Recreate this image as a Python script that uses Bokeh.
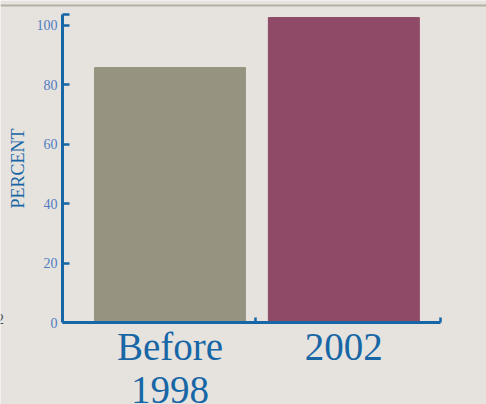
from bokeh.plotting import figure
from bokeh.models import Range1d, FixedTicker, Label, Span, ColumnDataSource, LinearAxis
from bokeh.embed import file_html
from bokeh.resources import INLINE

categories = ["Before\n1998", "2002"]
values = [85.7, 102.5]
bar_colors = ["#969481", "#8E4A66"]
y_ticks = [0, 20, 40, 60, 80, 100]

BG = "#E6E3DF"
AXIS = "#1766A5"
LABEL = "#4F7CC0"
FONT = "Liberation Serif"

X0, X1 = 0.382, 2.555      # extent of the x axis
Y1 = 103.5                 # top of the y axis

xs = [i + 1 for i in range(len(categories))]
src = ColumnDataSource(dict(x=xs, top=values, color=bar_colors))

p = figure(width=486, height=404, output_backend="svg", toolbar_location=None,
           x_range=Range1d(0.0255, 2.8203), y_range=Range1d(-27.56, 108.24),
           x_axis_location=None, y_axis_location=None,
           min_border=0, min_border_left=0, min_border_right=0,
           min_border_top=0, min_border_bottom=0)
p.background_fill_color = BG
p.border_fill_color = BG
p.outline_line_color = None
p.grid.visible = False

p.vbar(x="x", top="top", width=0.868, bottom=0, color="color", source=src)

# y axis
ya = LinearAxis(fixed_location=X0, bounds=(0, Y1))
ya.ticker = FixedTicker(ticks=y_ticks + [Y1], minor_ticks=[])
ya.major_label_overrides = {Y1: ""}
ya.axis_line_color = AXIS
ya.axis_line_width = 3
ya.major_tick_line_color = AXIS
ya.major_tick_line_width = 2.5
ya.major_tick_in = 7
ya.major_tick_out = 0
ya.minor_tick_line_color = None
ya.major_label_text_font = FONT
ya.major_label_text_font_size = "14px"
ya.major_label_text_color = LABEL
ya.major_label_standoff = 5
ya.axis_label = "PERCENT"
ya.axis_label_text_font = FONT
ya.axis_label_text_font_size = "18px"
ya.axis_label_text_font_style = "normal"
ya.axis_label_text_color = AXIS
ya.axis_label_standoff = 6
p.add_layout(ya, "left")

# x axis
xa = LinearAxis(fixed_location=0, bounds=(X0, X1))
xa.ticker = FixedTicker(ticks=xs, minor_ticks=[1.4917, X1])
xa.major_label_overrides = {float(x): c for x, c in zip(xs, categories)}
xa.axis_line_color = AXIS
xa.axis_line_width = 3
xa.major_tick_line_color = None
xa.major_tick_in = 0
xa.major_tick_out = 0
xa.minor_tick_line_color = AXIS
xa.minor_tick_line_width = 2.5
xa.minor_tick_in = 5
xa.minor_tick_out = 0
xa.major_label_text_font = FONT
xa.major_label_text_font_size = "39px"
xa.major_label_text_color = AXIS
xa.major_label_text_line_height = 1.0
xa.major_label_standoff = 2
p.add_layout(xa, "below")

# top gray rule and cut-off text at left
p.add_layout(Span(location=106.55, dimension="width", line_color="#B3B1A4", line_width=2))
p.add_layout(Label(x=-4, y=81, x_units="screen", y_units="screen", text="2",
                   text_font=FONT, text_font_size="15px", text_color="#555555"))

open("out.html", "w").write(file_html(p, INLINE))
